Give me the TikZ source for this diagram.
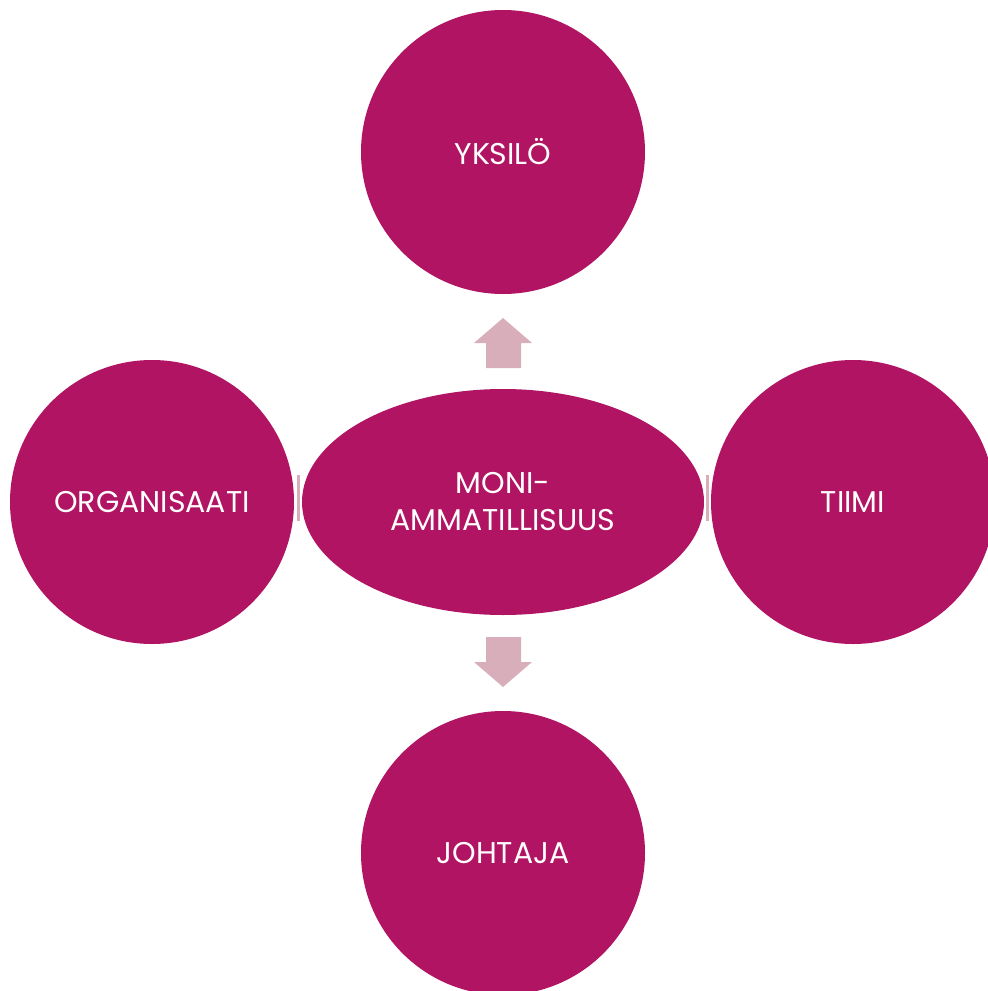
\documentclass[tikz,border=0pt]{standalone}
\usepackage{fontspec}
\setmainfont{Poppins}
\usetikzlibrary{shapes.geometric}
\definecolor{mag}{HTML}{B01463}
\definecolor{arr}{HTML}{D8AEBB}
\tikzset{
  bubble/.style={circle, fill=mag, minimum size=284pt, inner sep=0pt, text=white, font=\fontsize{30}{37}\selectfont, align=center},
  hub/.style={ellipse, fill=mag, minimum width=402pt, minimum height=226pt, inner sep=0pt, text=white, font=\fontsize{30}{37}\selectfont, align=center},
  arrowfill/.style={fill=arr, draw=none}
}
\begin{document}
\begin{tikzpicture}[x=1pt,y=-1pt]
\useasboundingbox (0,0) rectangle (988,991);
\begin{scope}
\clip (0,0) rectangle (988,991);
\node[hub] (hub) at (503,502) {MONI-\\AMMATILLISUUS};
\node[bubble] (top) at (503,152) {YKSILÖ};
\node[bubble] (left) at (152,502) {ORGANISAATI};
\node[bubble] (right) at (853,502) {TIIMI};
\node[bubble] (bottom) at (503,853) {JOHTAJA};
\end{scope}
% up arrow
\fill[arrowfill] (486,368) -- (486,343) -- (474,343) -- (503,318) -- (532,343) -- (521,343) -- (521,368) -- cycle;
% down arrow
\fill[arrowfill] (486,637) -- (486,662) -- (474,662) -- (503,687) -- (532,662) -- (521,662) -- (521,637) -- cycle;
% squashed side arrows
\fill[arrowfill] (297,475) rectangle (300,521);
\fill[arrowfill] (706,475) rectangle (708.5,521);
\end{tikzpicture}
\end{document}
